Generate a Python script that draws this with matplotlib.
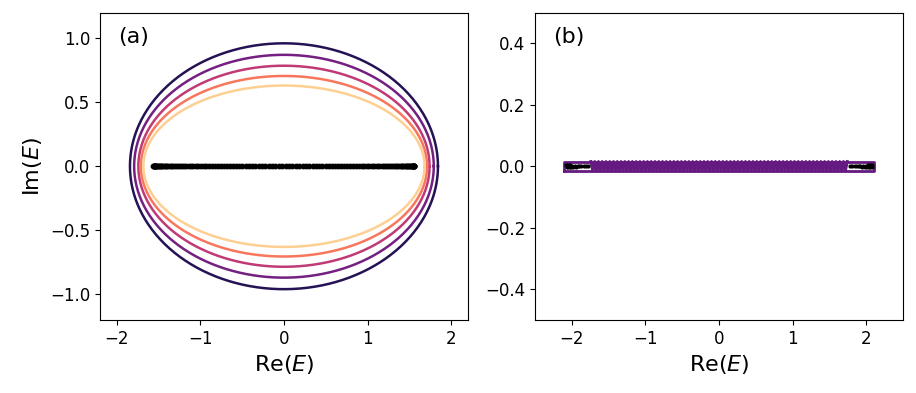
import numpy as np
import matplotlib
matplotlib.use("Agg")
import matplotlib.pyplot as plt

# ---------------- data ----------------
# panel (a): PBC spectra are ellipses, given by semi-axes (Re, Im)
ellipse_re_axis = [1.84, 1.79, 1.74, 1.71, 1.68]
ellipse_im_axis = [0.96, 0.87, 0.785, 0.705, 0.63]
ellipse_cmap_pos = [0.15, 0.3375, 0.525, 0.7125, 0.9]

# panel (a): OBC eigenvalues (real), positive half; spectrum is symmetric
obc_half_a = [1.5595, 1.5579, 1.5553, 1.5516, 1.5469, 1.5411, 1.5343, 1.5265,
              1.5176, 1.5077, 1.4968, 1.4849, 1.4720, 1.4581, 1.4432, 1.4273,
              1.4105, 1.3927, 1.3740, 1.3544, 1.3338, 1.3124, 1.2900, 1.2668,
              1.2428, 1.2179, 1.1922, 1.1658, 1.1385, 1.1105, 1.0817, 1.0522,
              1.0220, 0.9911, 0.9595, 0.9273, 0.8945, 0.8611, 0.8271, 0.7917,
              0.7565, 0.7207, 0.6845, 0.6480, 0.6109, 0.5736, 0.5357, 0.4974,
              0.4589, 0.4200, 0.3808, 0.3415, 0.3019, 0.2620, 0.2220, 0.1818,
              0.1416, 0.1012, 0.0607, 0.0202]
obc_re_a = [-v for v in obc_half_a] + obc_half_a[::-1]
obc_im_a = [0.0] * len(obc_re_a)

# panel (b): narrow PBC loop
band_re_min, band_re_max = -2.1, 2.1
band_im = 0.015
zig_re_min, zig_re_max = -1.74, 1.74
zig_periods = 68

# panel (b): OBC eigenvalues near the band edges (positive side; mirrored)
obc_half_b_re = [2.08, 2.07, 2.06, 2.05, 2.04, 2.03, 2.02, 2.01, 2.0, 1.98,
                 1.96, 1.94, 1.92, 1.90, 1.87, 1.84, 1.81, 1.78]
obc_half_b_im = [0.004, -0.004, 0.004, -0.004, 0.003, -0.003, 0.003, -0.003,
                 0.002, -0.002, 0.001, -0.001, 0.0, 0.0, 0.0, 0.0, 0.0, 0.0]

# ---------------- figure ----------------
fig = plt.figure(figsize=(9.16, 3.93), dpi=100)
axa = fig.add_axes([0.109, 0.186, 0.402, 0.782])
axb = fig.add_axes([0.584, 0.186, 0.402, 0.782])

cmap = matplotlib.colormaps["magma"]
theta = np.linspace(0, 2 * np.pi, 400)
for a, b, c in zip(ellipse_re_axis, ellipse_im_axis, ellipse_cmap_pos):
    axa.plot(a * np.cos(theta), b * np.sin(theta), color=cmap(c), lw=1.8)
axa.plot(obc_re_a, obc_im_a, 'o', color='black', ms=3.2)

axa.set_xlim(-2.2, 2.2)
axa.set_ylim(-1.2, 1.2)
axa.set_xticks([-2, -1, 0, 1, 2])
axa.set_yticks([-1.0, -0.5, 0.0, 0.5, 1.0])
axa.set_xlabel(r'Re$(E)$', fontsize=16)
axa.set_ylabel(r'Im$(E)$', fontsize=16)
axa.tick_params(labelsize=12)
axa.text(0.05, 0.9, '(a)', transform=axa.transAxes, fontsize=16)

purple = cmap(0.3)
# outline of the loop
ox = [band_re_min, band_re_max, band_re_max, band_re_min, band_re_min]
oy = [-band_im, -band_im, band_im, band_im, -band_im]
axb.plot(ox, oy, color=purple, lw=2.0, solid_joinstyle='round')
# zigzag interior
n = 2 * zig_periods + 1
zx = np.linspace(zig_re_min, zig_re_max, n)
zy = np.array([band_im if i % 2 == 0 else -band_im for i in range(n)])
axb.plot(zx, zy, color=purple, lw=2.2)
# OBC eigenvalues, one cluster at each band edge
axb.plot(obc_half_b_re, obc_half_b_im, 'o-', color='black', ms=2.0, lw=0.8)
axb.plot([-v for v in obc_half_b_re], obc_half_b_im, 'o-', color='black',
         ms=2.0, lw=0.8)

axb.set_xlim(-2.5, 2.5)
axb.set_ylim(-0.5, 0.5)
axb.set_xticks([-2, -1, 0, 1, 2])
axb.set_yticks([-0.4, -0.2, 0.0, 0.2, 0.4])
axb.set_xlabel(r'Re$(E)$', fontsize=16)
axb.tick_params(labelsize=12)
axb.text(0.05, 0.9, '(b)', transform=axb.transAxes, fontsize=16)

fig.savefig('out.png', dpi=100)
